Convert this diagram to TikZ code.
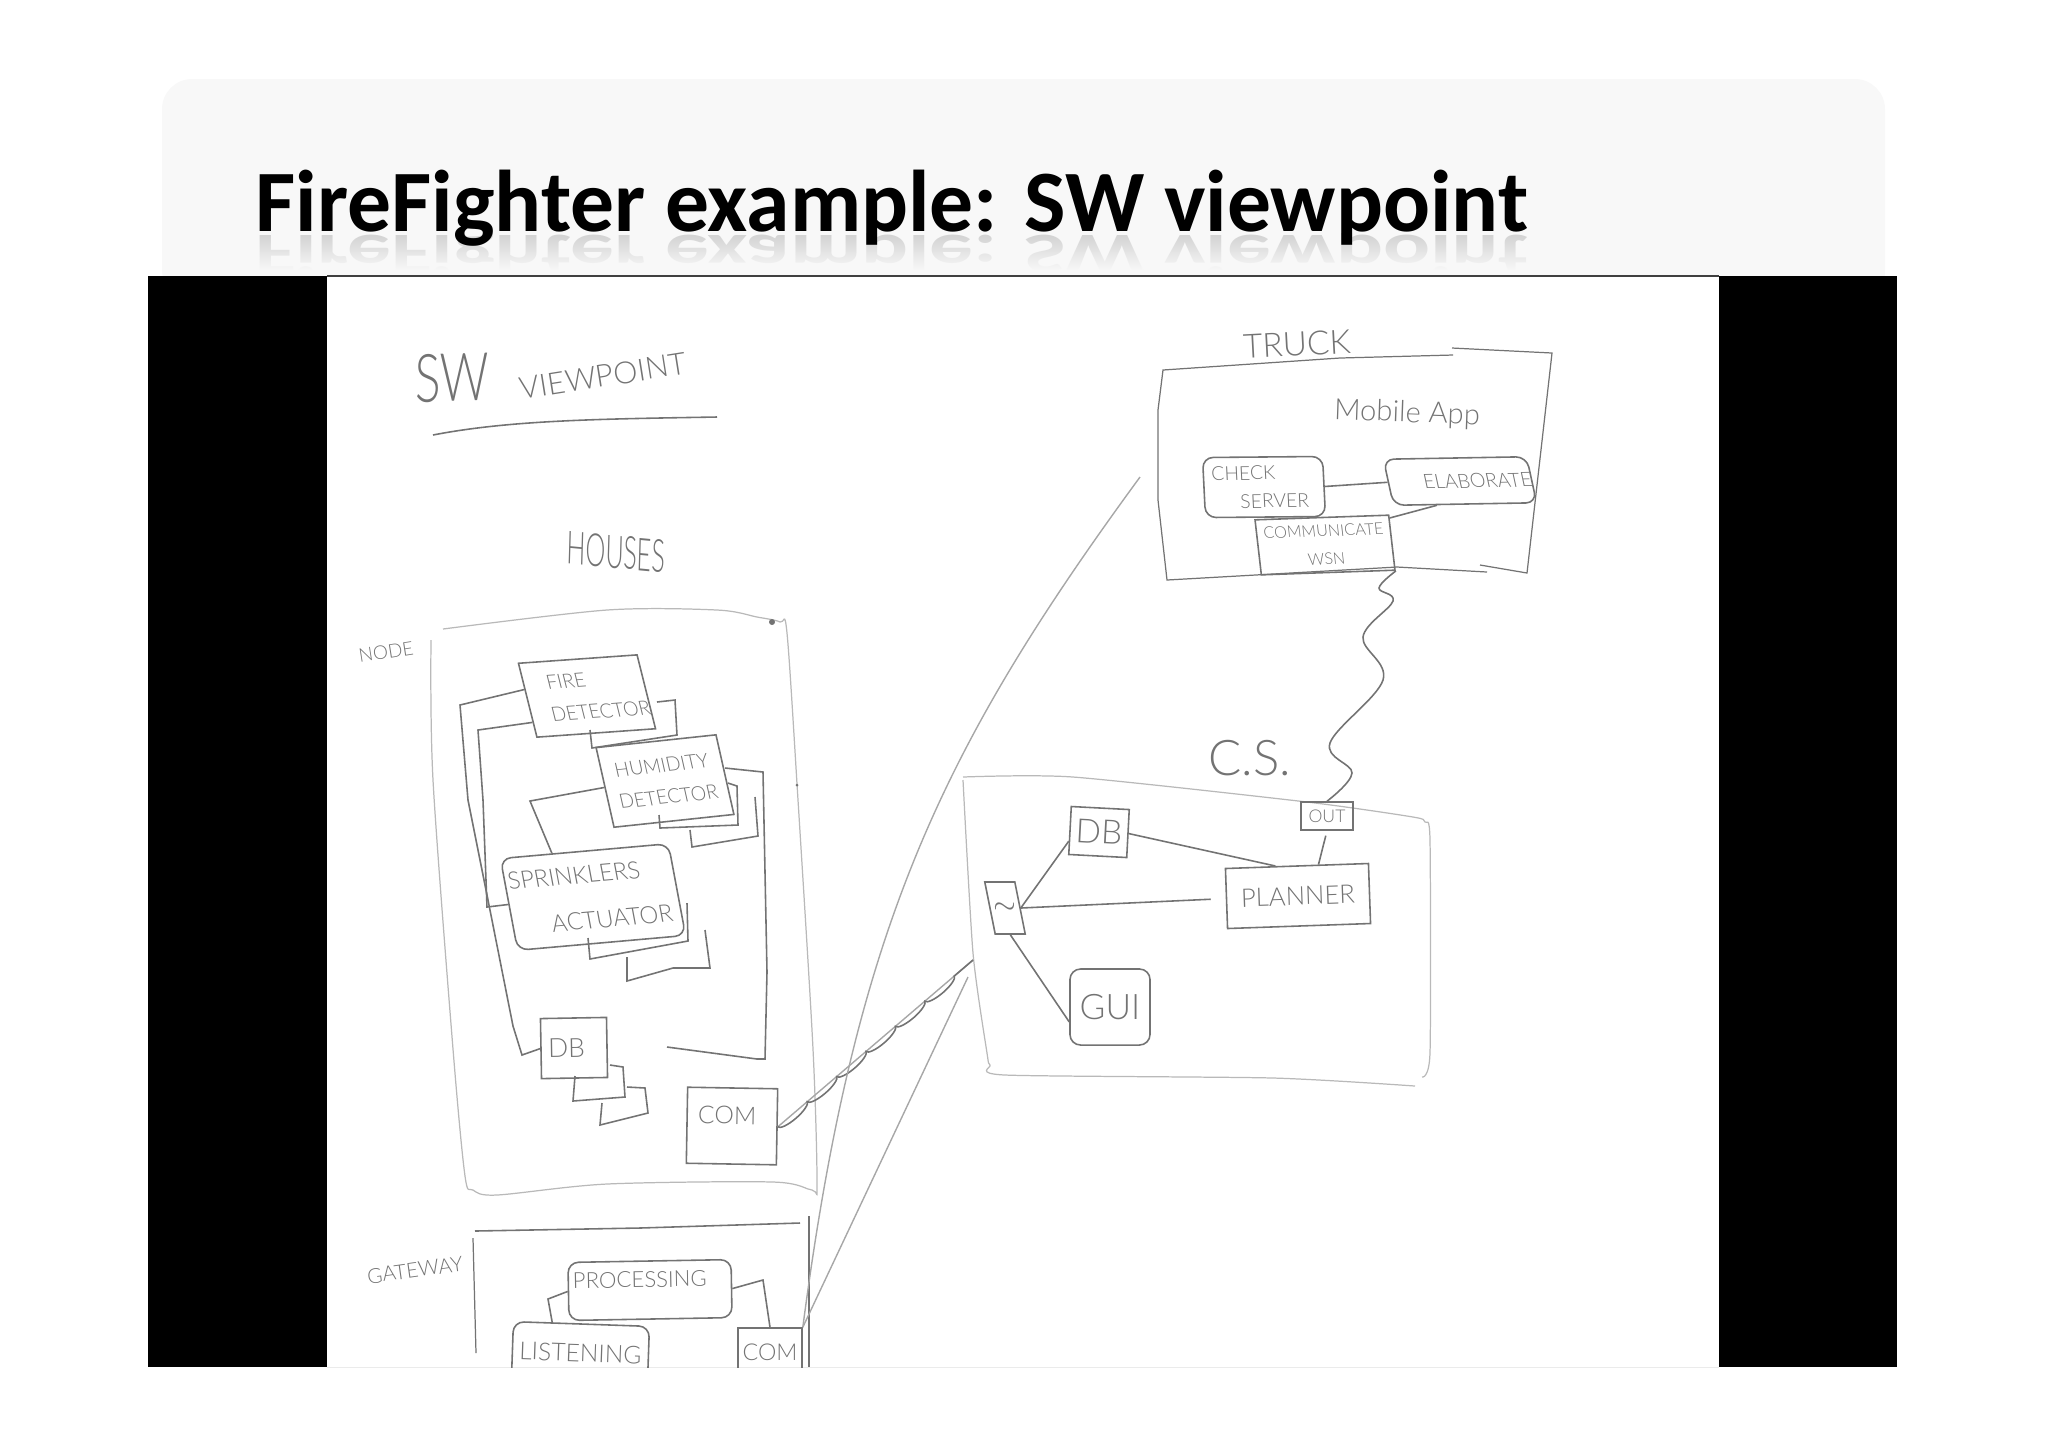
\documentclass[tikz,border=0pt]{standalone}
\usepackage{fontspec}
\usepackage{xcolor}
\usetikzlibrary{decorations.pathmorphing, fadings}
\setmainfont{Carlito}
\newfontfamily\handfont[UprightFont={* Light}]{Lato}
\newcommand{\hand}[2]{\handfont\fontsize{#1}{#2}\selectfont}
\definecolor{ink}{RGB}{115,115,115}
\definecolor{paleink}{RGB}{185,185,185}
\definecolor{header}{RGB}{248,248,248}
\tikzset{
  box/.style={
    draw=ink, line width=0.45pt, inner sep=0pt, align=center,
    text=ink, font=\hand{5.6}{9}
  },
  frame/.style={draw=paleink, line width=0.35pt},
  label/.style={inner sep=0pt, text=ink, align=center},
  wire/.style={draw=ink, line width=0.45pt},
  fine/.style={draw=paleink!75!ink, line width=0.4pt},
  titletext/.style={anchor=base west, inner sep=0pt, font=\fontsize{24.9}{28}\selectfont\bfseries},
}

\begin{document}
\begin{tikzpicture}[x=0.01cm, y=-0.01cm]
  \useasboundingbox (0,0) rectangle (2048,1447);

  % Slide header
  \fill[header, rounded corners=0.3cm] (162,79) rectangle (1885,300);
  \fill[white] (140,276) rectangle (1900,310);
  \begin{scope}
    \clip (163,233) rectangle (1885,275);
    \node[titletext, yscale=-0.65, text=black!18] (mirror) at (255,235) {FireFighter example: SW viewpoint};
    \fill[header, path fading=north] (163,233) rectangle (1885,270);
    \fill[header] (163,270) rectangle (1885,276);
  \end{scope}
  \node[titletext, text=black] (title) at (255,231) {FireFighter example: SW viewpoint};

  % Photo panel
  \fill[black] (148,276) rectangle (327,1367);
  \fill[black] (1719,276) rectangle (1897,1367);
  \draw[black!75, line width=0.4pt] (327,276) -- (1719,276);
  \draw[black!8, line width=0.3pt] (327,1367) -- (1719,1367);

  \begin{scope}
    \clip (327,277) rectangle (1719,1367);

    % Headings
    \node[label, xscale=0.72, rotate=1, font=\hand{19}{20}] (swword) at (452,378) {SW};
    \node[label, rotate=9, font=\hand{8.7}{12}] (viewword) at (603,376) {VIEWPOINT};
    \draw[wire] (433,435) .. controls (510,420) and (600,419) .. (717,417);
    \node[label, xscale=0.55, rotate=-3, font=\hand{13}{14}] (housesword) at (616,552) {HOUSES};
    \node[label, rotate=9, font=\hand{5.4}{8}] (nodeword) at (386,652) {NODE};
    \node[label, rotate=8, font=\hand{5.9}{10}] (gatewayword) at (415,1270) {GATEWAY};
    \node[label, rotate=3, font=\hand{9.5}{11}] (truckword) at (1297,344) {TRUCK};
    \node[label, rotate=-2, font=\hand{8.3}{12}] (appword) at (1407,414) {Mobile App};
    \node[label, font=\hand{14}{16}] (csword) at (1250,758) {C.S.};

    % House node
    \draw[frame] plot[smooth, tension=0.5] coordinates {(431,640) (433,780) (453,1049) (465,1176) (473,1190) (497,1195) (607,1184) (773,1182) (812,1190) (817,1184) (813,1049) (798,800) (787,633) (780,622) (757,617) (717,610) (607,610) (443,629)};
    \fill[ink] (772,622) circle (3);
    \fill[ink] (797,785) circle (1.5);
    \node[box, xslant=-0.18, rotate=4, minimum width=1.2cm, minimum height=0.74cm] (fire) at (587,696) {FIRE\hspace*{0.35cm}\\\hspace*{0.2cm}DETECTOR};
    \node[box, xslant=-0.12, rotate=6, minimum width=1.22cm, minimum height=0.8cm] (humidity) at (665,781) {HUMIDITY\\DETECTOR};
    \node[box, xslant=-0.1, rotate=5, rounded corners=3pt, minimum width=1.7cm, minimum height=0.92cm, font=\hand{6.8}{13}] (sprinkler) at (593,897) {SPRINKLERS\hspace*{0.3cm}\\\hspace*{0.3cm}ACTUATOR};
    \node[box, rotate=1, minimum width=0.66cm, minimum height=0.6cm, font=\hand{7.5}{12}] (housedb) at (574,1048) {DB\hspace*{0.15cm}};
    \node[box, rotate=-1, minimum width=0.9cm, minimum height=0.76cm, text depth=6pt, font=\hand{7}{9}] (housecom) at (732,1126) {COM\hspace*{0.1cm}};

    % Copies behind the boxes
    \draw[wire] (657,702) -- (675,700) -- (677,735) -- (592,748) -- (590,730);
    \draw[wire] (728,783) -- (737,786) -- (738,825) -- (660,828) -- (659,815);
    \draw[wire] (755,797) -- (758,836) -- (692,847) -- (690,830);
    \draw[wire] (725,768) -- (763,772) -- (767,972) -- (765,1059) -- (757,1059) -- (667,1047);
    \draw[wire] (687,903) -- (688,941) -- (590,959) -- (588,938);
    \draw[wire] (705,930) -- (710,968) -- (673,968) -- (627,981) -- (627,957);
    \draw[wire] (575,1076) -- (573,1101) -- (625,1097) -- (623,1067) -- (610,1065);
    \draw[wire] (602,1103) -- (600,1125) -- (648,1113) -- (645,1088) -- (627,1087);

    \draw[wire] (fire.170) -- (460,705) -- (468,800) -- (487,895) -- (513,1026) -- (522,1055) -- (housedb.west);
    \draw[wire] (fire.200) -- (478,730) -- (483,800) -- (487,907) -- (sprinkler.west);
    \draw[wire] (humidity.west) -- (530,801) -- (sprinkler.125);

    % Gateway
    \draw[wire] (475,1231) -- (640,1228) -- (800,1223);
    \draw[frame, draw=ink] (473,1238) -- (476,1353);
    \draw[frame, draw=ink] (809,1216) -- (809,1367);
    \node[box, rotate=1, rounded corners=3pt, minimum width=1.63cm, minimum height=0.58cm, text depth=6pt, font=\hand{6.3}{8}] (processing) at (650,1290) {PROCESSING\hspace*{0.2cm}};
    \node[box, rotate=-2, rounded corners=3pt, minimum width=1.36cm, minimum height=0.82cm, text depth=7pt, font=\hand{7}{8}] (listening) at (580,1365) {LISTENING};
    \node[box, minimum width=0.64cm, minimum height=0.84cm, text depth=10pt, font=\hand{6.6}{9}] (gatecom) at (770,1370) {COM};
    \draw[wire] (processing.west) -- (548,1299) -- (listening.125);
    \draw[wire] (processing.east) -- (763,1280) -- (gatecom.north);

    % Truck
    \draw[frame, draw=ink] (1158,500) -- (1158,410) -- (1163,370) -- (1340,358) -- (1453,355);
    \draw[frame, draw=ink] (1452,348) -- (1552,353) -- (1527,573) -- (1480,565);
    \draw[frame, draw=ink] (1158,500) -- (1167,580) -- (1397,567) -- (1487,572);
    \node[box, xslant=-0.04, rotate=0.5, rounded corners=3pt, minimum width=1.2cm, minimum height=0.6cm, font=\hand{5.5}{8}] (checkserver) at (1264,487) {CHECK\hspace*{0.4cm}\\\hspace*{0.2cm}SERVER};
    \node[box, xslant=-0.2, rotate=1, rounded corners=3pt, minimum width=1.4cm, minimum height=0.46cm, font=\hand{5.6}{8}] (elaborate) at (1460,481) {\hspace*{0.35cm}ELABORATE};
    \node[box, xslant=-0.08, rotate=2, minimum width=1.34cm, minimum height=0.55cm, font=\hand{4.6}{8}] (communicate) at (1325,545) {COMMUNICATE\\WSN};
    \draw[wire] (checkserver.east) -- (elaborate.west);
    \draw[wire] (communicate.20) -- (elaborate.220);

    % C.S.
    \draw[frame] plot[smooth, tension=0.4] coordinates {(963,780) (973,953) (987,1053) (990,1065) (1005,1075) (1273,1078) (1415,1086)};
    \draw[frame] plot[smooth, tension=0.4] coordinates {(1422,1077) (1430,1053) (1430,840) (1425,822) (1413,817) (1307,802) (1073,777) (963,777)};
    \node[box, xslant=-0.2, minimum width=0.3cm, minimum height=0.52cm, font=\hand{8}{9}] (csin) at (1005,908) {$\sim$};
    \node[box, rotate=-3, minimum width=0.58cm, minimum height=0.48cm, font=\hand{9.5}{11}] (csdb) at (1099,832) {DB};
    \node[box, minimum width=0.52cm, minimum height=0.28cm, font=\hand{5}{6}] (csout) at (1327,816) {OUT};
    \node[box, rotate=2, minimum width=1.43cm, minimum height=0.6cm, font=\hand{7.3}{9}] (planner) at (1298,896) {PLANNER};
    \node[box, rounded corners=3pt, minimum width=0.8cm, minimum height=0.76cm, font=\hand{10}{13}] (gui) at (1110,1007) {GUI};
    \draw[wire] (csin.east) -- (csdb.200);
    \draw[wire, shorten >=0.15cm] (csin.east) -- (planner.west);
    \draw[wire] (csin.south) -- (gui.200);
    \draw[wire] (csdb.east) -- (planner.125);
    \draw[wire, shorten <=0.05cm] (csout.south) -- (planner.55);

    % Links between the parts
    \coordinate (cslink) at (973,960);
    \coordinate (cslinktwo) at (968,977);
    \coordinate (trucklink) at (1140,477);
    \draw[fine] (housecom.east) -- (cslink);
    \draw[wire, decorate, decoration={bumps, mirror, segment length=22pt, amplitude=1.5pt}] (housecom.east) -- (cslink);
    \draw[fine] (gatecom.north east) -- (cslinktwo);
    \draw[fine] (gatecom.north east) .. controls (855,930) and (940,750) .. (trucklink);
    \draw[wire] plot[smooth, tension=0.6] coordinates {(communicate.south east) (1379,588) (1393,601) (1363,637) (1383,680) (1330,743) (1352,773) (csout.north)};
  \end{scope}
\end{tikzpicture}
\end{document}
